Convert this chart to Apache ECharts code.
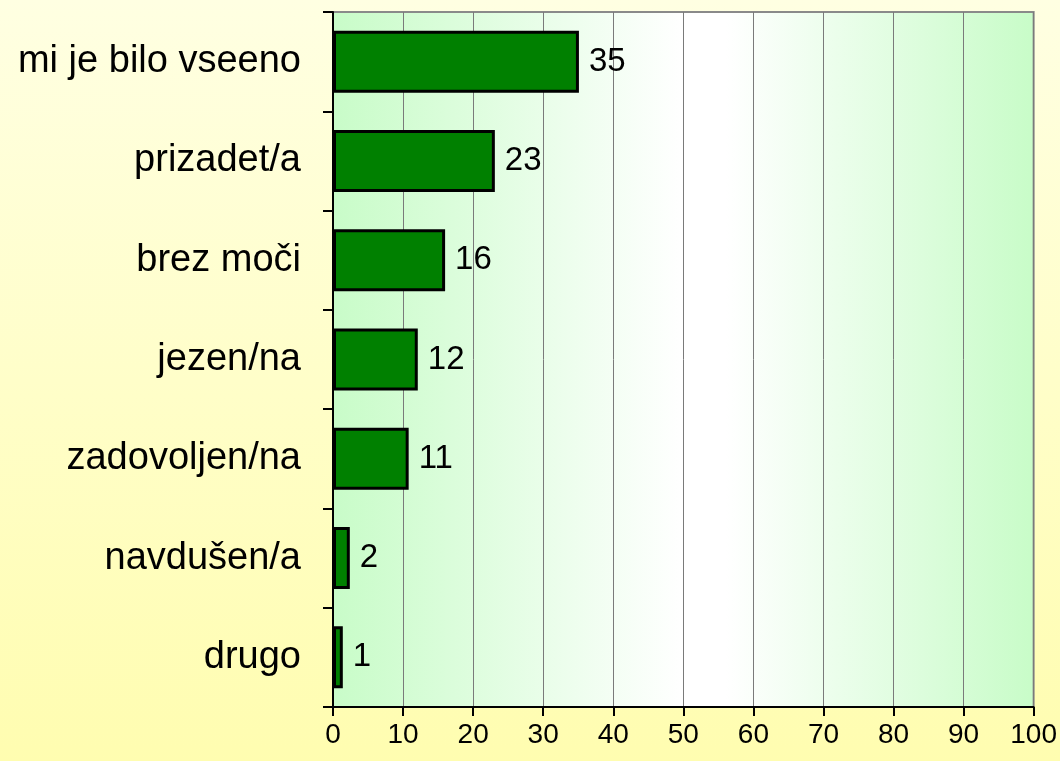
<!DOCTYPE html>
<html>
<head>
<meta charset="utf-8">
<script src="https://cdn.jsdelivr.net/npm/echarts@6/dist/echarts.min.js"></script>
<style>
  html, body { margin: 0; padding: 0; }
  #chart {
    width: 1060px;
    height: 761px;
    background: linear-gradient(to bottom, #ffffe2 0%, #fffdb0 100%);
  }
</style>
</head>
<body>
<div id="chart"></div>
<script>
const categories = ['mi je bilo vseeno', 'prizadet/a', 'brez moči', 'jezen/na', 'zadovoljen/na', 'navdušen/a', 'drugo']
// bar lengths; labels show them rounded
const values = [35.1, 23.1, 16.0, 12.1, 10.8, 2.4, 1.4]
const xTicks = [0, 10, 20, 30, 40, 50, 60, 70, 80, 90, 100]

const chart = echarts.init(document.getElementById('chart'))

chart.setOption({
  backgroundColor: 'transparent',
  textStyle: { fontFamily: 'Liberation Sans' },
  grid: {
    left: 333,
    right: 23,
    top: 12,
    bottom: 54,
    show: true,
    borderColor: '#8a8a8a',
    borderWidth: 2,
    backgroundColor: new echarts.graphic.LinearGradient(0, 0, 1, 0, [
      { offset: 0, color: '#c8fcc8' },
      { offset: 0.5, color: '#ffffff' },
      { offset: 0.56, color: '#ffffff' },
      { offset: 1, color: '#c8fcc8' }
    ])
  },
  xAxis: {
    type: 'value',
    min: xTicks[0],
    max: xTicks[xTicks.length - 1],
    interval: 10,
    axisLine: { show: true, lineStyle: { color: '#000', width: 2 } },
    axisTick: { show: true, length: 9, lineStyle: { color: '#000', width: 2 } },
    axisLabel: { color: '#000', fontSize: 28, margin: 14 },
    splitLine: { show: true, lineStyle: { color: '#7a7a7a', width: 1 } }
  },
  yAxis: {
    type: 'category',
    inverse: true,
    data: categories,
    axisLine: { show: true, lineStyle: { color: '#000', width: 2 } },
    axisTick: { show: true, length: 10, lineStyle: { color: '#000', width: 2 } },
    axisLabel: { color: '#000', fontSize: 38, margin: 32 },
    splitLine: { show: false }
  },
  series: [
    {
      type: 'bar',
      data: values,
      barWidth: 62,
      itemStyle: {
        color: '#008000',
        borderColor: '#000',
        borderWidth: 3
      },
      label: {
        show: true,
        position: 'right',
        distance: 10,
        color: '#000',
        fontSize: 33,
        formatter: p => Math.round(p.value)
      }
    }
  ]
})
</script>
</body>
</html>
